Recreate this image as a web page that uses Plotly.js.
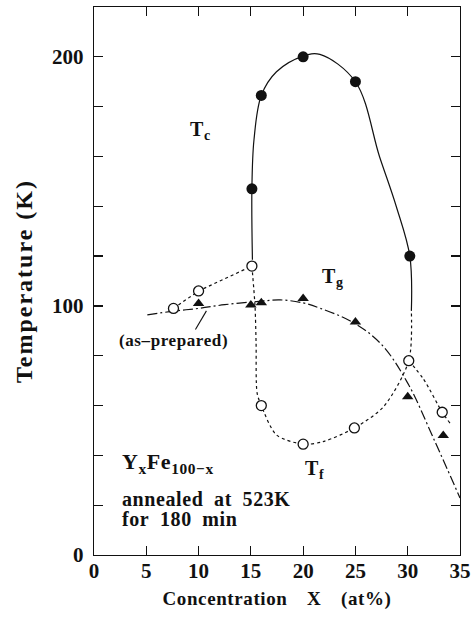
<!DOCTYPE html>
<html>
<head>
<meta charset="utf-8">
<script src="https://cdn.plot.ly/plotly-3.0.1.min.js"></script>
<style>
  html, body { margin: 0; padding: 0; background: #fff; }
  #chart { width: 471px; height: 620px; }
  .ytitle { letter-spacing: 2px; }
  .xtitle { letter-spacing: 0.6px; }
  .annotation-text { letter-spacing: 0.6px; }
</style>
</head>
<body>
<div id="chart"></div>
<script>
// Y_xFe_(100-x) annealed at 523 K for 180 min: transition temperatures vs. Y content

// Curie temperature Tc (filled circles)
const tcX = [15.1, 16.0, 20.0, 25.0, 30.2];
const tcY = [147, 184.5, 200, 190, 120];

// Freezing temperature Tf (open circles)
const tfX = [7.6, 10.0, 15.1, 16.0, 20.0, 24.9, 30.1, 33.3];
const tfY = [99, 106, 116, 60, 44.5, 51, 78, 57.3];

// Spin-glass temperature Tg (filled triangles)
const tgX = [10.0, 15.0, 16.0, 20.0, 25.0, 30.0, 33.4];
const tgY = [101, 100.4, 101.3, 103, 93.5, 63.5, 48];

// Hand-drawn guide curves through the measured points
const tcGuideX = [15.15, 15.1, 15.3, 16.0, 17.45, 20.0, 21.6, 25.0, 27.3, 28.9, 30.2, 30.35];
const tcGuideY = [118.5, 147, 166.7, 184.5, 194, 200.3, 201, 190, 160, 140, 120, 98];

const tgGuideX = [5.1, 7.6, 10.0, 12.5, 15.5, 17.8, 20.0, 21.6, 24.8, 27.5, 30.0, 32.5, 35.0];
const tgGuideY = [96.4, 97.9, 99, 100.5, 101.7, 102.4, 101.2, 99.1, 93.3, 84.5, 69, 46.5, 22.9];

const tfGuideAX = [7.6, 10.0, 15.1];
const tfGuideAY = [99, 106, 116];
const tfGuideBX = [15.1, 15.4, 15.5, 15.6, 16.0, 17.45, 20.0, 21.9, 24.9, 27.7, 30.1, 30.35];
const tfGuideBY = [116, 99.7, 85, 65, 60, 48.2, 44.5, 45.5, 51, 59.6, 78, 98];
const tfGuideCX = [30.1, 31.5, 33.3, 34.05];
const tfGuideCY = [78, 70.7, 57.3, 52.9];

// Pointer from the "(as-prepared)" label to the Tg curve
const pointerX = [9.7, 10.75];
const pointerY = [90.5, 98.0];

// Axis ticks: x labelled every 5; y ticked every 20, labelled every 100
const xTickVals = [0, 5, 10, 15, 20, 25, 30, 35];
const xTickText = ['0', '5', '10', '15', '20', '25', '30', '35'];
const yTickVals = [0, 20, 40, 60, 80, 100, 120, 140, 160, 180, 200, 220];
const yTickText = ['0', '', '', '', '', '100', '', '', '', '', '200', ''];

const SERIF = 'Liberation Serif, Times New Roman, serif';
const INK = '#111';

const traces = [
  { x: tcGuideX, y: tcGuideY, mode: 'lines', line: { color: INK, width: 1.2, shape: 'spline', smoothing: 1 }, hoverinfo: 'skip', showlegend: false },
  { x: tgGuideX, y: tgGuideY, mode: 'lines', line: { color: INK, width: 1.2, shape: 'spline', smoothing: 1, dash: '10px,3px,2px,3px' }, hoverinfo: 'skip', showlegend: false },
  { x: tfGuideAX, y: tfGuideAY, mode: 'lines', line: { color: INK, width: 1.2, dash: 'dot' }, hoverinfo: 'skip', showlegend: false },
  { x: tfGuideBX, y: tfGuideBY, mode: 'lines', line: { color: INK, width: 1.2, shape: 'spline', smoothing: 0.8, dash: 'dot' }, hoverinfo: 'skip', showlegend: false },
  { x: tfGuideCX, y: tfGuideCY, mode: 'lines', line: { color: INK, width: 1.2, shape: 'spline', smoothing: 0.8, dash: 'dot' }, hoverinfo: 'skip', showlegend: false },
  { x: pointerX, y: pointerY, mode: 'lines', line: { color: INK, width: 1.1 }, hoverinfo: 'skip', showlegend: false },
  { name: 'Tc', x: tcX, y: tcY, mode: 'markers', marker: { symbol: 'circle', size: 11, color: INK, line: { width: 0 } }, showlegend: false },
  { name: 'Tf', x: tfX, y: tfY, mode: 'markers', marker: { symbol: 'circle', size: 10, color: '#fff', line: { color: INK, width: 1.3 } }, showlegend: false },
  { name: 'Tg', x: tgX, y: tgY, mode: 'markers', marker: { symbol: 'triangle-up', size: 10, color: INK, line: { width: 0 } }, showlegend: false }
];

const layout = {
  width: 471,
  height: 620,
  margin: { l: 94, r: 11, t: 7, b: 65, pad: 0 },
  paper_bgcolor: '#fff',
  plot_bgcolor: '#fff',
  showlegend: false,
  xaxis: {
    range: [0, 35],
    tickmode: 'array', tickvals: xTickVals, ticktext: xTickText,
    ticks: 'inside', ticklen: 9, tickwidth: 1.2, tickcolor: INK,
    showline: true, linewidth: 1.3, linecolor: INK, mirror: 'ticks',
    showgrid: false, zeroline: false,
    ticklabelstandoff: -4,
    tickfont: { family: SERIF, size: 21, color: INK, weight: 'bold' },
    title: { text: 'Concentration\u2003X\u2003(at%)', standoff: 10, font: { family: SERIF, size: 19, color: INK, weight: 'bold' } },
    automargin: false
  },
  yaxis: {
    range: [0, 220],
    tickmode: 'array', tickvals: yTickVals, ticktext: yTickText,
    ticks: 'inside', ticklen: 9, tickwidth: 1.2, tickcolor: INK,
    showline: true, linewidth: 1.3, linecolor: INK, mirror: 'ticks',
    showgrid: false, zeroline: false,
    ticklabelstandoff: 5,
    tickfont: { family: SERIF, size: 21, color: INK, weight: 'bold' },
    title: { text: 'Temperature (K)', standoff: 12, font: { family: SERIF, size: 24, color: INK, weight: 'bold' } },
    automargin: false
  },
  annotations: [
    { x: 9.03, y: 170.5, xanchor: 'left', yanchor: 'middle', showarrow: false, text: 'T<sub>c</sub>', font: { family: SERIF, size: 20, color: INK, weight: 'bold' } },
    { x: 21.63, y: 111.5, xanchor: 'left', yanchor: 'middle', showarrow: false, text: 'T<sub>g</sub>', font: { family: SERIF, size: 20, color: INK, weight: 'bold' } },
    { x: 20.0, y: 34.5, xanchor: 'left', yanchor: 'middle', showarrow: false, text: 'T<sub>f</sub>', font: { family: SERIF, size: 20, color: INK, weight: 'bold' } },
    { x: 2.2, y: 86.1, xanchor: 'left', yanchor: 'middle', showarrow: false, text: '(as\u2013prepared)', font: { family: SERIF, size: 17, color: INK, weight: 'bold' } },
    { x: 2.53, y: 37.0, xanchor: 'left', yanchor: 'middle', showarrow: false, text: 'Y<sub>x</sub>Fe<sub>100\u2212x</sub>', font: { family: SERIF, size: 22, color: INK, weight: 'bold' } },
    { x: 2.53, y: 22.5, xanchor: 'left', yanchor: 'middle', showarrow: false, text: 'annealed\u2002at\u2002523K', font: { family: SERIF, size: 20, color: INK, weight: 'bold' } },
    { x: 2.53, y: 14.5, xanchor: 'left', yanchor: 'middle', showarrow: false, text: 'for\u2002180\u2002min', font: { family: SERIF, size: 20, color: INK, weight: 'bold' } }
  ]
};

Plotly.newPlot('chart', traces, layout, { displayModeBar: false, staticPlot: true });
</script>
</body>
</html>
